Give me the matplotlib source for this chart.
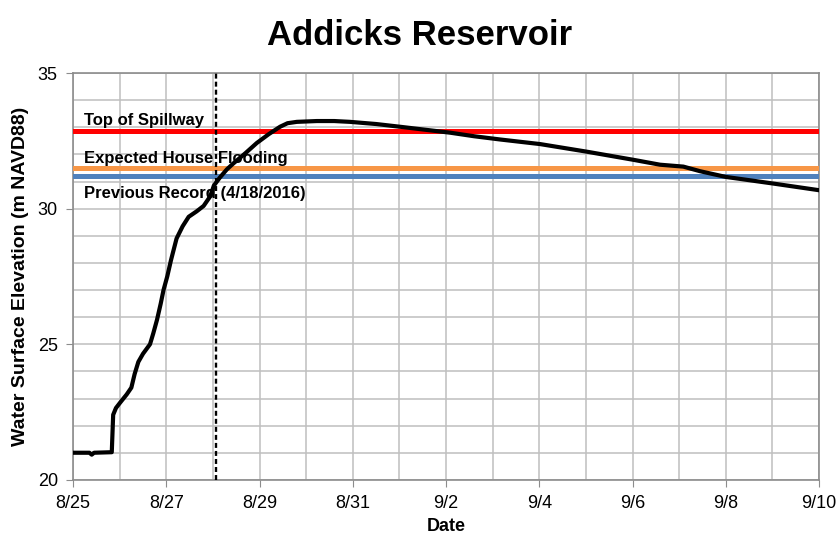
import matplotlib.pyplot as plt

# days since 8/25 and water surface elevation (m NAVD88)
days = [0.0, 0.35, 0.40, 0.45, 0.83, 0.86, 0.92, 1.01, 1.15, 1.25, 1.32, 1.40,
        1.50, 1.65, 1.72, 1.80, 1.88, 1.94, 2.02, 2.10, 2.22, 2.35, 2.48, 2.65,
        2.80, 2.94, 3.02, 3.15, 3.30, 3.44, 3.70, 3.94, 4.20, 4.44, 4.60, 4.80,
        5.23, 5.60, 5.94, 6.50, 7.01, 7.50, 8.09, 8.60, 9.16, 10.02, 11.02,
        12.02, 12.59, 13.09, 13.45, 14.00, 15.00, 16.00]
elevation = [21.0, 21.0, 20.93, 21.0, 21.02, 22.4, 22.65, 22.85, 23.15, 23.4,
             23.9, 24.35, 24.65, 25.0, 25.4, 25.9, 26.5, 27.0, 27.5, 28.1,
             28.9, 29.35, 29.7, 29.9, 30.1, 30.45, 30.85, 31.15, 31.45, 31.67,
             32.05, 32.42, 32.75, 33.02, 33.15, 33.2, 33.23, 33.23, 33.2,
             33.12, 33.02, 32.92, 32.8, 32.67, 32.55, 32.38, 32.1, 31.8,
             31.62, 31.55, 31.38, 31.17, 30.93, 30.68]

ref_names = ["Top of Spillway", "Expected House Flooding", "Previous Record (4/18/2016)"]
ref_levels = [32.87, 31.49, 31.19]
ref_colors = ["#FF0000", "#F79646", "#4F81BD"]
label_y = [33.08, 31.69, 30.38]

marker_day = 3.07
tick_days = [0, 2, 4, 6, 8, 10, 12, 14, 16]
tick_labels = ["8/25", "8/27", "8/29", "8/31", "9/2", "9/4", "9/6", "9/8", "9/10"]

plt.rcParams['font.family'] = ['Liberation Sans', 'DejaVu Sans']

fig = plt.figure(figsize=(8.4, 5.41), dpi=100)
ax = fig.add_axes([0.087, 0.113, 0.888, 0.752])

for lvl, c in zip(ref_levels, ref_colors):
    ax.axhline(lvl, color=c, lw=3.6, zorder=3)

for name, y in zip(ref_names, label_y):
    ax.text(0.236, y, name, fontsize=12, fontweight="bold", va="baseline",
            ha="left", zorder=3.5)

ax.plot(days, elevation, color="black", lw=3.0, zorder=4, solid_joinstyle="round")
ax.axvline(marker_day, color="black", lw=1.7, linestyle=(0, (2.1, 1.3)), zorder=5)

ax.set_xlim(0, 16)
ax.set_ylim(20, 35)
ax.set_xticks(tick_days)
ax.set_xticklabels(tick_labels)
ax.set_xticks(range(0, 17), minor=True)
ax.set_yticks([20, 25, 30, 35])
ax.set_yticks(range(20, 36), minor=True)
ax.grid(True, which="both", color="#BFBFBF", lw=1.1, zorder=0)
ax.set_axisbelow(True)

for s in ax.spines.values():
    s.set_color("#8C8C8C")
    s.set_linewidth(1.2)
ax.tick_params(which="major", direction="out", length=5, color="#8C8C8C",
               labelsize=13, pad=6)
ax.tick_params(which="minor", length=0)

ax.set_xlabel("Date", fontsize=13, fontweight="bold", labelpad=4)
ax.set_ylabel("Water Surface Elevation (m NAVD88)", fontsize=14, fontweight="bold",
              labelpad=6)
fig.suptitle("Addicks Reservoir", fontsize=25, fontweight="bold", x=0.5, y=0.965)

fig.savefig("out.png", dpi=100)
